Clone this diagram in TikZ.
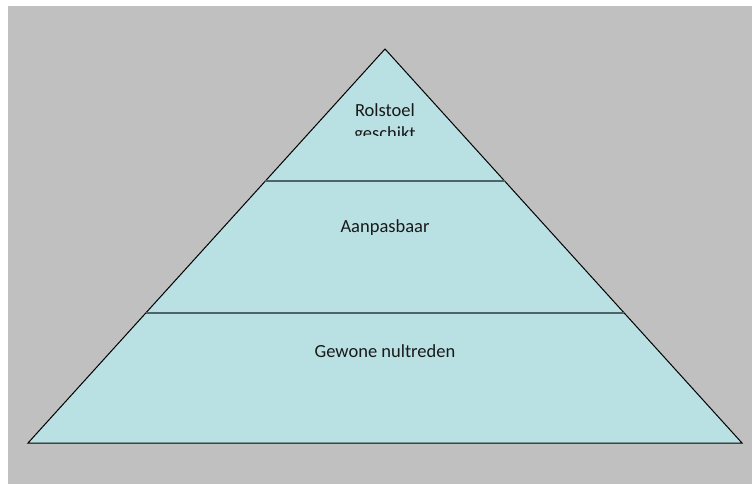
\documentclass[tikz,border=0pt]{standalone}
\usepackage{fontspec}
\setmainfont{Carlito}
\usepackage{tikz}
\usetikzlibrary{calc}
\definecolor{pyrfill}{HTML}{B9E0E3}
\definecolor{bgray}{HTML}{C0C0C0}
\definecolor{bandline}{HTML}{4F6466}
\tikzstyle{label}=[inner sep=0pt, align=center, font=\fontsize{18.5}{22.6}\selectfont, text=black!90]
\tikzstyle{band}=[line width=2pt, draw=bandline]

\begin{document}
\begin{tikzpicture}[x=1pt, y=-1pt]

      \useasboundingbox (0,0) rectangle (752,484);
      \fill[bgray] (8,6) rectangle (752,484);

      \coordinate (apex) at (385,49);
      \coordinate (bl) at (28,443);
      \coordinate (br) at (742,443);
      \coordinate (l1) at ($(apex)!0.335!(bl)$);
      \coordinate (r1) at ($(apex)!0.335!(br)$);
      \coordinate (l2) at ($(apex)!0.669!(bl)$);
      \coordinate (r2) at ($(apex)!0.669!(br)$);

      \filldraw[fill=pyrfill, draw=black, line width=1pt, line join=miter] (apex) -- (bl) -- (br) -- cycle;

      \draw[band] (l1) -- (r1);
      \draw[band] (l2) -- (r2);

      \begin{scope}
        \clip (266,50) rectangle (504,136);
        \node[label, anchor=base] (top) at (385,139.6) {Rolstoel\\geschikt};
      \end{scope}
      \node[label, anchor=base] (mid) at (385,232) {Aanpasbaar};
      \node[label, anchor=base] (low) at (385,357) {Gewone nultreden};

    \end{tikzpicture}
\end{document}
